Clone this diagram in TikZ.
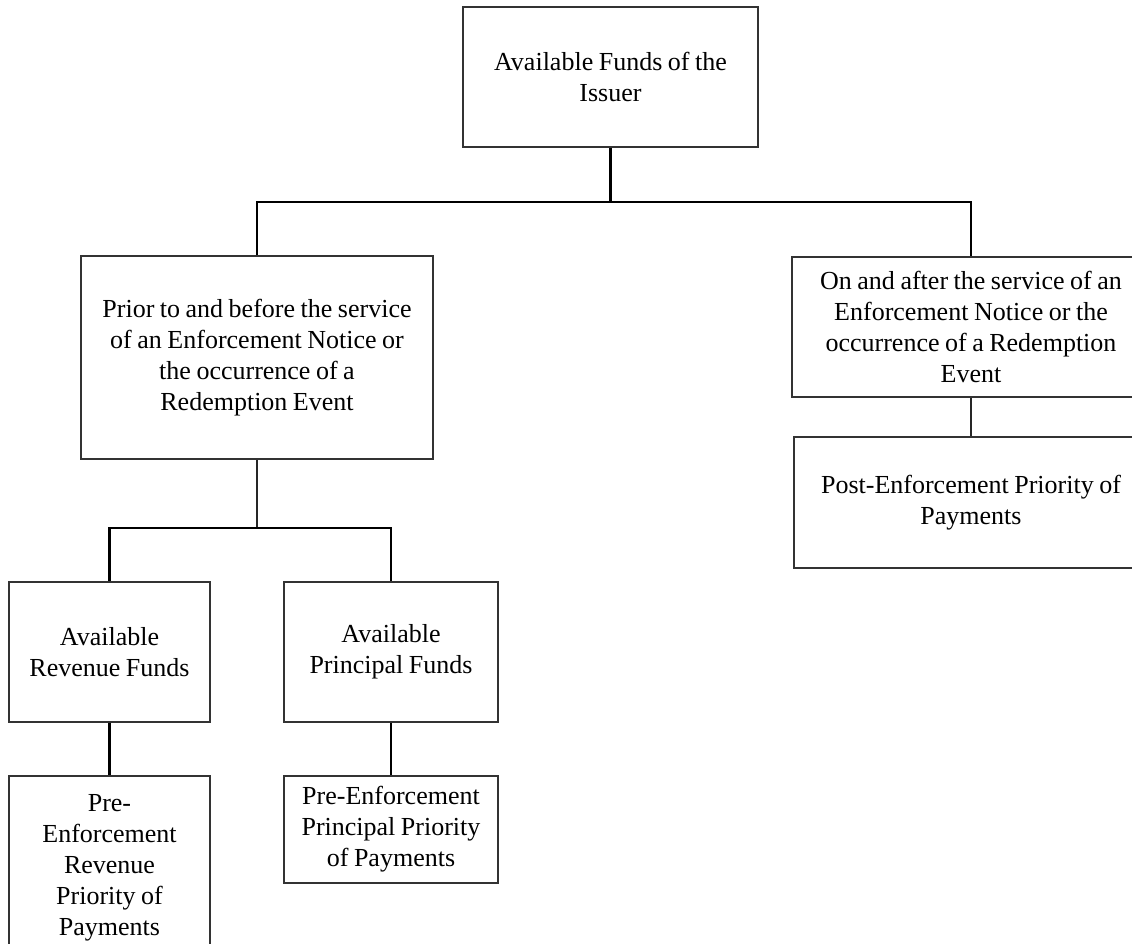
\documentclass[tikz,border=0pt]{standalone}
\usepackage{fontspec}
\setmainfont{Liberation Serif}[WordSpace=0.85]
\usepackage{tikz}
\usetikzlibrary{arrows.meta}
\usepackage[dvipsnames]{xcolor}

\tikzset{
  box/.style={draw=black!80, line width=0.6pt, rectangle, align=center, inner sep=0pt,
    font=\fontsize{13}{15.5}\selectfont},
  link/.style={draw=black, line width=1.1pt},
  thinlink/.style={draw=black!85, line width=0.6pt}
}

\begin{document}
\begin{tikzpicture}[x=0.5pt,y=-0.5pt]
\useasboundingbox (0,0) rectangle (1132,944);
\clip (0,0) rectangle (1132,944);
\fill[white] (0,0) rectangle (1132,944);
% funds and the two cases
\node[box, minimum width=147.5pt, minimum height=70pt] (funds) at (610.5,77) {Available Funds of the\\Issuer};
\node[box, minimum width=176pt, minimum height=101.5pt] (prior) at (257,357.5) {Prior to and before the service\\of an Enforcement Notice or\\the occurrence of a\\Redemption Event};
\node[box, minimum width=179pt, minimum height=70pt] (after) at (971,327) {On and after the service of an\\Enforcement Notice or the\\occurrence of a Redemption\\Event};
\node[box, minimum width=177pt, minimum height=65.5pt] (post) at (971,502.5) {Post-Enforcement Priority of\\Payments};
% revenue and principal
\node[box, minimum width=100.5pt, minimum height=70pt] (revfunds) at (109.5,652) {Available\\Revenue Funds};
\node[box, minimum width=107pt, minimum height=70pt] (prinfunds) at (391,652) {Available\\Principal Funds};
\node[box, minimum width=100.5pt, minimum height=92pt] (prerev) at (109.5,868) {Pre-\\Enforcement\\Revenue\\Priority of\\Payments};
\node[box, minimum width=107pt, minimum height=53.5pt] (preprin) at (391,829.5) {Pre-Enforcement\\Principal Priority\\of Payments};
% connectors
\coordinate (split) at (610.5,202);
\coordinate (subsplit) at (257,528);
\draw[link] (funds.south) -- (split);
\draw[link] (prior.north) |- (split);
\draw[link] (split) -| (after.north);
\draw[thinlink] (after.south) -- (post.north);
\draw[thinlink] (prior.south) -- (subsplit);
\draw[link] (subsplit) -| (revfunds.north);
\draw[link] (subsplit) -| (prinfunds.north);
\draw[link] (revfunds.south) -- (prerev.north);
\draw[link] (prinfunds.south) -- (preprin.north);
\end{tikzpicture}
\end{document}
